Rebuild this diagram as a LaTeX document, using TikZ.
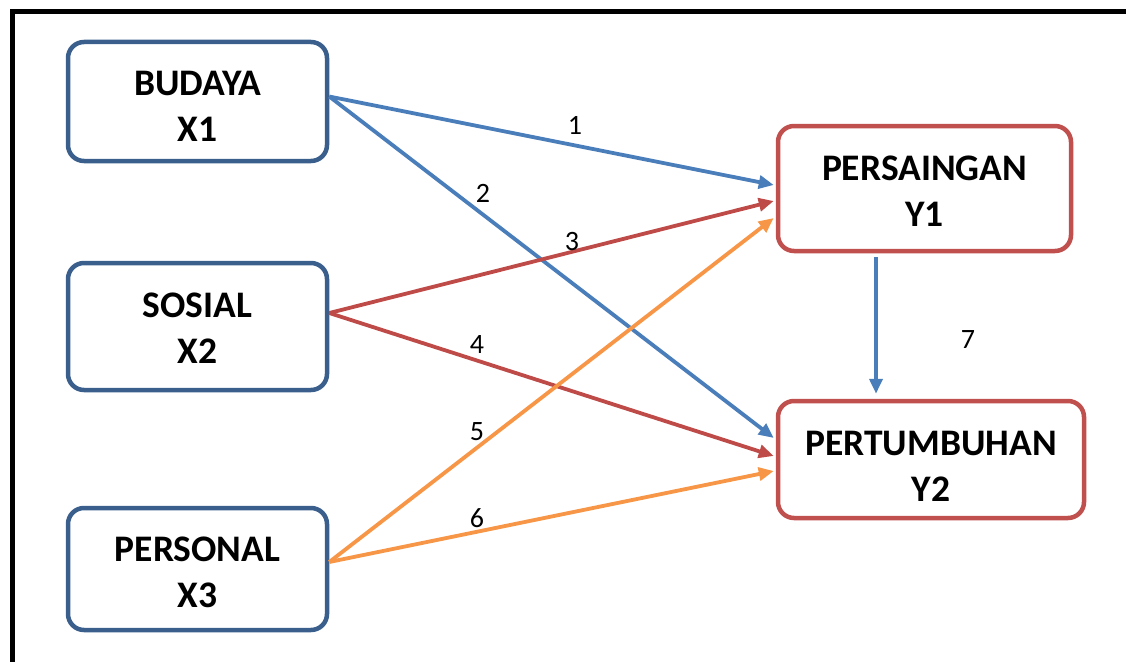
\documentclass[tikz,border=0pt]{standalone}
\usepackage{fontspec}
\setmainfont{Carlito}
\usetikzlibrary{arrows.meta, positioning, calc}

\definecolor{boxblue}{HTML}{3B5F8D}
\definecolor{boxred}{HTML}{C0504D}
\definecolor{arrblue}{HTML}{4A7EBB}
\definecolor{arrred}{HTML}{BE4B48}
\definecolor{arrorange}{HTML}{F79646}

\begin{document}
\begin{tikzpicture}[x=1pt,y=-1pt,
  xbox/.style={rectangle,draw=boxblue,line width=4.5pt,rounded corners=16pt, minimum width=259pt,align=center,font=\fontsize{37.5}{46}\selectfont\bfseries, text height=90pt, text depth=#1},
  ybox/.style={rectangle,draw=boxred,line width=4.5pt,rounded corners=16pt, align=center,font=\fontsize{37.5}{46}\selectfont\bfseries, text height=90pt, text depth=#1},
  lbl/.style={font=\fontsize{28}{30}\selectfont, inner sep=0pt},
  arr/.style={-{Triangle[length=15pt,width=13pt]},line width=3.8pt}
]
  \clip (0,0) rectangle (1126,661);
  \useasboundingbox (0,0) rectangle (1126,661);
  % frame
  \draw[line width=5pt] (12,700) -- (12,11.5) -- (1160,11.5);
  % boxes
  \node[xbox=11pt,minimum height=119pt](bud) at (197.5,101.5) {BUDAYA\\X1};
  \node[xbox=17pt,minimum height=127pt](sos) at (197.5,326.5) {SOSIAL\\X2};
  \node[xbox=13pt,minimum height=122pt](per) at (197.5,569)   {PERSONAL\\X3};
  \node[ybox=15pt,minimum width=293pt,minimum height=125pt](sai) at (924.5,188.5) {PERSAINGAN\\Y1};
  \node[ybox=7pt,minimum width=306pt,minimum height=117pt](tum) at (931,459.5)  {PERTUMBUHAN\\Y2};
  % arrows
  \draw[arr,arrblue]([yshift=5pt]bud.east) -- ([yshift=3.5pt,xshift=-2pt]sai.west);
  \draw[arr,arrblue]([yshift=5pt]bud.east) -- ([yshift=21.5pt,xshift=-2pt]tum.west);
  \draw[arr,arrred]([yshift=13.5pt]sos.east) -- ([yshift=-12.5pt,xshift=-2pt]sai.west);
  \draw[arr,arrred]([yshift=13.5pt]sos.east) -- ([yshift=3.5pt,xshift=-2pt]tum.west);
  \draw[arr,arrorange]([yshift=7pt]per.east) -- ([yshift=-29.5pt,xshift=-2pt]sai.west);
  \draw[arr,arrorange]([yshift=7pt]per.east) -- ([yshift=-11.5pt,xshift=-2pt]tum.west);
  \draw[arr,arrblue,shorten <=4pt,shorten >=5pt]([xshift=-48.5pt]sai.south) -- ([xshift=-48.5pt]sai.south |- tum.north);
  % path numbers
  \node[lbl](n1) at (575,125) {1};
  \node[lbl](n2) at (483,193) {2};
  \node[lbl](n3) at (572,242) {3};
  \node[lbl](n4) at (477,345) {4};
  \node[lbl](n5) at (477,432) {5};
  \node[lbl](n6) at (477,518) {6};
  \node[lbl](n7) at (968,340) {7};
\end{tikzpicture}
\end{document}
